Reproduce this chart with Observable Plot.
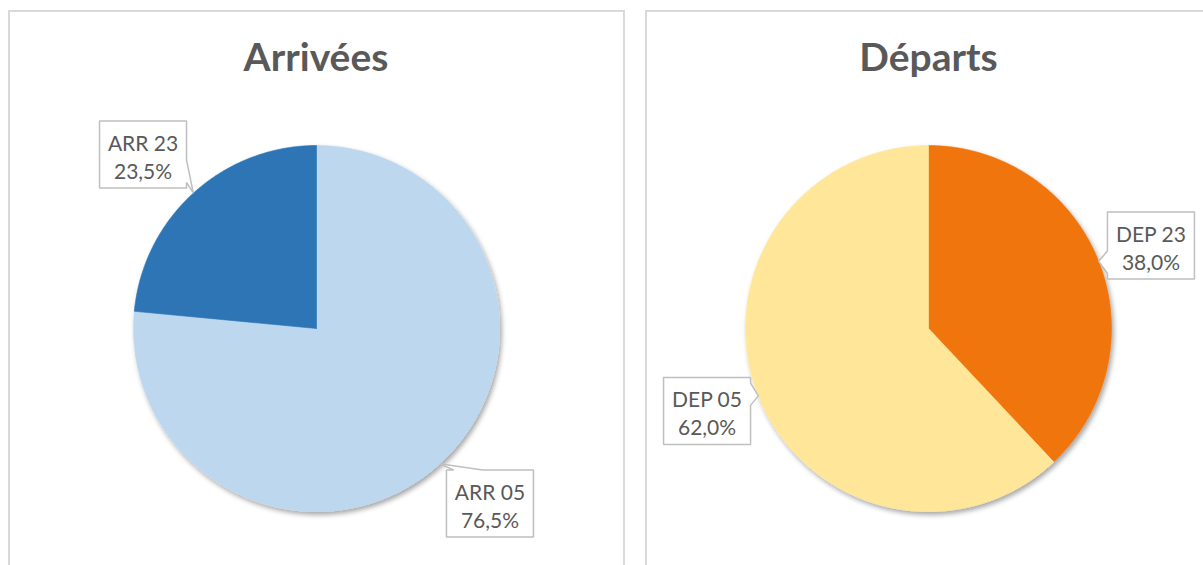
<!DOCTYPE html>
<html><head><meta charset="utf-8">
<script src="https://cdn.jsdelivr.net/npm/d3@7"></script>
<script src="https://cdn.jsdelivr.net/npm/@observablehq/plot@0.6"></script>
<style>
body{margin:0;background:#fff;font-family:Lato,sans-serif;}
#page{position:relative;width:1203px;height:565px;overflow:hidden;background:#fff;}
.panel{position:absolute;border:2px solid #D9D9D9;box-sizing:border-box;}
.title{position:absolute;font-weight:bold;font-size:39px;line-height:39px;color:#595959;text-align:center;width:400px;white-space:nowrap;}
.chart{position:absolute;left:0;top:0;}
</style></head><body><div id="page"></div>
<script>
// ---- data ----
const arrTitle = "Arrivées";
const arrCategories = ["ARR 05", "ARR 23"];
const arrValues = [76.5, 23.5];
const depTitle = "Départs";
const depCategories = ["DEP 23", "DEP 05"];
const depValues = [38.0, 62.0];

// ---- styles / layout ----
const arrColors = ["#BDD7EE", "#2E75B6"];
const depColors = ["#F07510", "#FFE699"];
const R = 183;
const W = 1203, H = 565;
const arrCenter = [316, 328];
const depCenter = [928, 328];
// box-centre offsets (px) from each slice's callout tip
const arrLabelOffsets = [[50.3, 39.6], [-50.3, -38.6]];
const depLabelOffsets = [[52.3, -15.6], [-51.3, 15.1]];
const boxW = 87, boxH = 67;

const page = document.getElementById("page");
function addPanel(left, top, width, height) {
  const d = document.createElement("div");
  d.className = "panel";
  Object.assign(d.style, {left: left + "px", top: top + "px", width: width + "px", height: height + "px"});
  page.appendChild(d);
}
addPanel(8, 9.5, 617, 600);
addPanel(645, 9.5, 600, 600);

function addTitle(text, cx) {
  const t = document.createElement("div");
  t.className = "title";
  t.textContent = text;
  t.style.left = (cx - 200) + "px";
  t.style.top = "37px";
  page.appendChild(t);
}

function pie(cats, vals, colors, center, offsets, idx) {
  const [cx, cy] = center;
  const total = d3.sum(vals);
  let a = 0;
  const slices = cats.map((c, i) => {
    const a0 = a, a1 = a + vals[i] / total * 2 * Math.PI;
    a = a1;
    return {cat: c, pct: vals[i] / total * 100, a0, a1, color: colors[i], off: offsets[i]};
  });
  const marks = [];
  for (const s of slices) {
    const pts = [{x: 0, y: 0}];
    const n = Math.max(2, Math.ceil((s.a1 - s.a0) / (Math.PI / 360)));
    for (let k = 0; k <= n; k++) {
      const t = s.a0 + (s.a1 - s.a0) * k / n;
      pts.push({x: Math.sin(t), y: Math.cos(t)});
    }
    pts.push({x: 0, y: 0});
    marks.push(Plot.line(pts, {x: "x", y: "y", fill: s.color, stroke: s.color, strokeWidth: 0.6, curve: "linear", ariaDescription: "slice"}));
  }
  // callouts
  const toU = (px, py) => ({x: (px - cx) / R, y: (cy - py) / R});
  const texts = [];
  for (const s of slices) {
    const m = (s.a0 + s.a1) / 2;
    const tx = cx + R * Math.sin(m), ty = cy - R * Math.cos(m);
    const bx = tx + s.off[0], by = ty + s.off[1];
    const x0 = bx - boxW / 2, x1 = bx + boxW / 2, y0 = by - boxH / 2, y1 = by + boxH / 2;
    const ndx = (tx - bx) / boxW, ndy = (ty - by) / boxH;
    const P = [];
    const horiz = Math.abs(ndx) >= Math.abs(ndy);
    const yb = ty < by ? [y0 + boxH / 12, y0 + boxH * 5 / 12] : [y0 + boxH * 7 / 12, y0 + boxH * 11 / 12];
    const xb = tx < bx ? [x0 + boxW / 12, x0 + boxW * 5 / 12] : [x0 + boxW * 7 / 12, x0 + boxW * 11 / 12];
    P.push([x0, y0]);
    if (!horiz && ndy < 0) { P.push([xb[0], y0], [tx, ty], [xb[1], y0]); }
    P.push([x1, y0]);
    if (horiz && ndx > 0) { P.push([x1, yb[0]], [tx, ty], [x1, yb[1]]); }
    P.push([x1, y1]);
    if (!horiz && ndy > 0) { P.push([xb[1], y1], [tx, ty], [xb[0], y1]); }
    P.push([x0, y1]);
    if (horiz && ndx < 0) { P.push([x0, yb[1]], [tx, ty], [x0, yb[0]]); }
    P.push([x0, y0]);
    marks.push(Plot.line(P.map(([px, py]) => toU(px, py)), {x: "x", y: "y", fill: "white", stroke: "#BFBFBF", strokeWidth: 1.5, curve: "linear", strokeLinejoin: "miter"}));
    const c = toU(bx, by);
    texts.push({x: c.x, y: c.y, label: s.cat + "\n" + s.pct.toFixed(1).replace(".", ",") + "%"});
  }
  marks.push(Plot.text(texts, {x: "x", y: "y", text: "label", fill: "#595959", fontSize: 21, lineHeight: 1.33, dy: 1.5, fontFamily: "Lato"}));

  const plot = Plot.plot({
    width: W, height: H,
    margin: 0,
    x: {domain: [-1, 1], range: [cx - R, cx + R], axis: null},
    y: {domain: [-1, 1], range: [cy + R, cy - R], axis: null},
    style: {background: "transparent", fontFamily: "Lato", overflow: "visible"},
    marks
  });
  plot.classList.add("chart");
  plot.style.position = "absolute";
  plot.style.left = "0px";
  plot.style.top = "0px";
  // shadow under the pie
  const ns = "http://www.w3.org/2000/svg";
  const defs = document.createElementNS(ns, "defs");
  defs.innerHTML = `<filter id="shadow${idx}" x="-20%" y="-20%" width="140%" height="140%"><feDropShadow dx="2" dy="3" stdDeviation="2.5" flood-color="#000" flood-opacity="0.35"/></filter>`;
  plot.insertBefore(defs, plot.firstChild);
  const gs = plot.querySelectorAll('g[aria-description="slice"]');
  if (gs.length) {
    const wrap = document.createElementNS(ns, "g");
    wrap.setAttribute("filter", `url(#shadow${idx})`);
    gs[0].parentNode.insertBefore(wrap, gs[0]);
    gs.forEach(g => wrap.appendChild(g));
  }
  page.appendChild(plot);
}

pie(arrCategories, arrValues, arrColors, arrCenter, arrLabelOffsets, 0);
pie(depCategories, depValues, depColors, depCenter, depLabelOffsets, 1);
addTitle(arrTitle, arrCenter[0]);
addTitle(depTitle, depCenter[0] + 0.5);
</script>
</body></html>
